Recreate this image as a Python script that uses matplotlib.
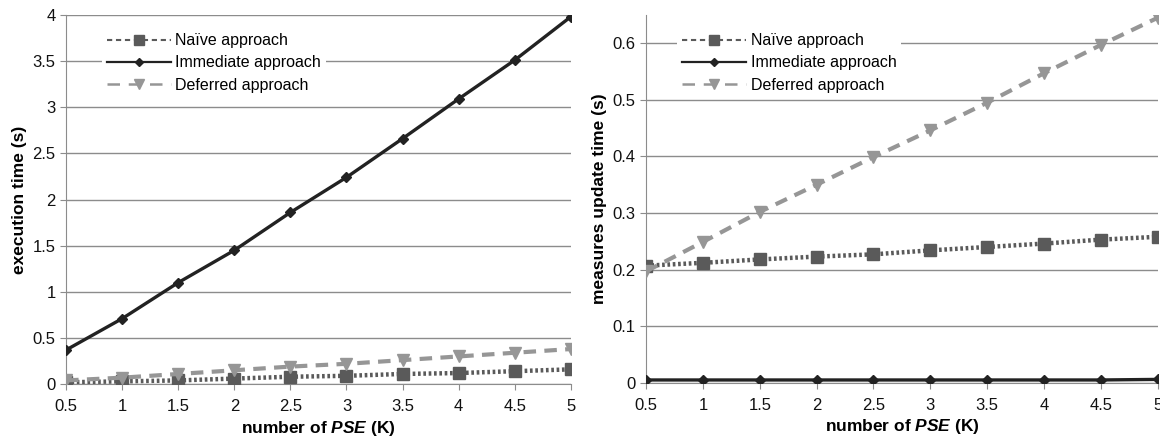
import matplotlib.pyplot as plt

plt.rcParams['font.family'] = ['Liberation Sans', 'DejaVu Sans']
plt.rcParams['mathtext.fontset'] = 'custom'
plt.rcParams['mathtext.it'] = 'Liberation Sans:italic:bold'
plt.rcParams['mathtext.rm'] = 'Liberation Sans:bold'

pse = [0.5, 1, 1.5, 2, 2.5, 3, 3.5, 4, 4.5, 5]
xticklabels = ['0.5', '1', '1.5', '2', '2.5', '3', '3.5', '4', '4.5', '5']

# execution time (s)
exec_naive = [0.02, 0.03, 0.04, 0.06, 0.08, 0.09, 0.11, 0.12, 0.14, 0.16]
exec_immediate = [0.37, 0.71, 1.10, 1.45, 1.86, 2.24, 2.66, 3.09, 3.51, 3.98]
exec_deferred = [0.04, 0.07, 0.11, 0.15, 0.19, 0.22, 0.26, 0.30, 0.34, 0.38]

# measures update time (s)
upd_naive = [0.207, 0.212, 0.218, 0.223, 0.227, 0.234, 0.240, 0.246, 0.253, 0.258]
upd_immediate = [0.005, 0.005, 0.005, 0.005, 0.005, 0.005, 0.005, 0.005, 0.005, 0.006]
upd_deferred = [0.197, 0.249, 0.302, 0.350, 0.399, 0.446, 0.495, 0.547, 0.597, 0.645]

labels = ['Naïve approach', 'Immediate approach', 'Deferred approach']

fig = plt.figure(figsize=(11.6, 4.4), dpi=100)
ax1 = fig.add_axes([0.057, 0.127, 0.435, 0.839])
ax2 = fig.add_axes([0.557, 0.130, 0.441, 0.836])


def draw(ax, naive, imm, dfr, ylim, yticks, yticklabels, ylabel, leg_anchor):
    ax.plot(pse, naive, color='#5a5a5a', lw=3.2, ls=(0, (0.6, 0.6)), marker='s',
            ms=8, mfc='#5a5a5a', mec='#5a5a5a', label=labels[0], zorder=3)
    ax.plot(pse, imm, color='#222222', lw=2.4, ls='-', marker='D', ms=5,
            label=labels[1], zorder=4)
    ax.plot(pse, dfr, color='#969696', lw=3, ls=(0, (3, 2)), marker='v', ms=8,
            mfc='#969696', mec='#969696', label=labels[2], zorder=3)
    ax.set_xlim(0.5, 5)
    ax.set_ylim(*ylim)
    ax.set_xticks(pse)
    ax.set_xticklabels(xticklabels)
    ax.set_yticks(yticks)
    ax.set_yticklabels(yticklabels)
    ax.grid(axis='y', color='#8c8c8c', lw=1)
    ax.set_axisbelow(True)
    for s in ['top', 'right']:
        ax.spines[s].set_visible(False)
    for s in ['left', 'bottom']:
        ax.spines[s].set_color('#8c8c8c')
    ax.tick_params(axis='both', colors='#8c8c8c', labelcolor='#111111',
                   labelsize=12, length=4, direction='out')
    ax.tick_params(axis='x', pad=7)
    ax.set_ylabel(ylabel, fontsize=12.5, fontweight='bold', labelpad=4)
    ax.set_xlabel('number of $\\it{PSE}$ (K)', fontsize=12.5,
                  fontweight='bold', labelpad=3)
    leg = ax.legend(loc='upper left', bbox_to_anchor=leg_anchor, fontsize=11.5,
                    frameon=True, fancybox=False, edgecolor='white',
                    framealpha=1, handlelength=4.0, handletextpad=0.3,
                    labelspacing=0.45, borderpad=0.3)
    leg.get_frame().set_linewidth(0)
    styles = [(1.5, 7, (0, (2.5, 1.8))), (1.6, 4.5, '-'), (1.8, 7, (0, (5, 3.5)))]
    for h, (lw, ms, ls) in zip(leg.legend_handles, styles):
        h.set_linewidth(lw)
        h.set_markersize(ms)
        h.set_linestyle(ls)


draw(ax1, exec_naive, exec_immediate, exec_deferred, (0, 4),
     [0, 0.5, 1, 1.5, 2, 2.5, 3, 3.5, 4],
     ['0', '0.5', '1', '1.5', '2', '2.5', '3', '3.5', '4'],
     'execution time (s)', (0.055, 0.985))
draw(ax2, upd_naive, upd_immediate, upd_deferred, (0, 0.65),
     [0, 0.1, 0.2, 0.3, 0.4, 0.5, 0.6],
     ['0', '0.1', '0.2', '0.3', '0.4', '0.5', '0.6'],
     'measures update time (s)', (0.045, 0.985))

fig.savefig('out.png', dpi=100)
